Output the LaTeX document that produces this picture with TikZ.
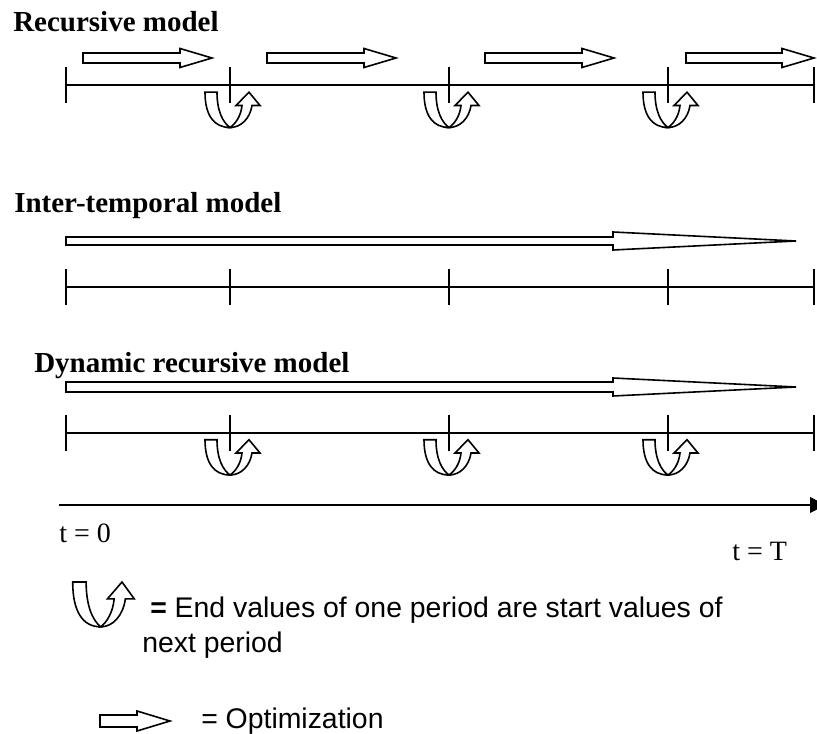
\documentclass[tikz,border=0pt]{standalone}
\usepackage{fontspec}
\setmainfont{Liberation Serif}
\newfontfamily\arialf{Liberation Sans}
\usetikzlibrary{arrows.meta}
\newcommand\blockarr[7]{% tail x, tip x, y, shaft half, head half, head length, name
  \draw[outl] (#1,#3-#4) -- (#2-#6,#3-#4) -- (#2-#6,#3-#5) -- (#2,#3) coordinate (#7)
    -- (#2-#6,#3+#5) -- (#2-#6,#3+#4) -- (#1,#3+#4) -- cycle;}
\begin{document}
\begin{tikzpicture}[x=0.75pt,y=-0.75pt,
  outl/.style={draw=black,fill=white,line width=1.2pt,line join=miter},
  tline/.style={draw=black,line width=1.5pt},
  titletxt/.style={anchor=base west,inner sep=0pt,font=\fontsize{21.75}{26}\selectfont\bfseries},
  serif/.style={anchor=base west,inner sep=0pt,font=\fontsize{21}{26}\selectfont},
  sans/.style={anchor=base west,inner sep=0pt,font=\arialf\fontsize{21.3}{26}\selectfont},
  curl/.pic={
    \draw[outl] (-25,6.7) -- (-13,6.7) .. controls (-13,26) and (-7,37) .. (0,42)
      .. controls (-16,42) and (-25,30) .. (-25,6.7) -- cycle;
    \draw[outl] (0,42) .. controls (11,42) and (20,33) .. (22,20) -- (30,20) -- (19,6.7)
      -- (6,20) -- (12,20) .. controls (11,30) and (6,38) .. (0,42) -- cycle;
  }]
\useasboundingbox (0,0) rectangle (817,734);

% ---------- Recursive model ----------
\node[titletxt] (t1) at (13,32) {Recursive model};
\blockarr{83}{212}{58}{5}{9.5}{32}{r1}
\blockarr{267}{396}{58}{5}{9.5}{32}{r2}
\blockarr{485}{614}{58}{5}{9.5}{32}{r3}
\blockarr{686}{814}{58}{5}{9.5}{32}{r4}
\coordinate (a0) at (66,85.5);
\coordinate (a1) at (230,85.5);
\coordinate (a2) at (449,85.5);
\coordinate (a3) at (668,85.5);
\coordinate (a4) at (814,85.5);
\draw[tline] (a0) -- (a4);
\foreach \c in {a0,a1,a2,a3,a4}{\draw[tline] ([yshift=18*0.75pt]\c) -- ([yshift=-18*0.75pt]\c);}
\foreach \c in {a1,a2,a3}{\pic at (\c) {curl};}

% ---------- Inter-temporal model ----------
\node[titletxt] (t2) at (14,213) {Inter-temporal model};
\blockarr{66}{796}{241}{4}{9}{183}{it}
\coordinate (b0) at (66,287);
\coordinate (b1) at (230,287);
\coordinate (b2) at (449,287);
\coordinate (b3) at (668,287);
\coordinate (b4) at (814,287);
\draw[tline] (b0) -- (b4);
\foreach \c in {b0,b1,b2,b3,b4}{\draw[tline] ([yshift=18*0.75pt]\c) -- ([yshift=-18*0.75pt]\c);}

% ---------- Dynamic recursive model ----------
\node[titletxt] (t3) at (34,372) {Dynamic recursive model};
\blockarr{66}{796}{387}{5}{9}{183}{dr}
\coordinate (c0) at (66,433);
\coordinate (c1) at (230,433);
\coordinate (c2) at (449,433);
\coordinate (c3) at (668,433);
\coordinate (c4) at (814,433);
\draw[tline] (c0) -- (c4);
\foreach \c in {c0,c1,c2,c3,c4}{\draw[tline] ([yshift=18*0.75pt]\c) -- ([yshift=-18*0.75pt]\c);}
\foreach \c in {c1,c2,c3}{\pic at (\c) {curl};}

% ---------- time axis ----------
\coordinate (ax0) at (59,505);
\coordinate (ax1) at (826,505);
\draw[line width=1.9pt,-{Triangle[length=12pt,width=11.5pt]}] (ax0) -- (ax1);
\node[serif] (tz) at (59,542) {t = 0};
\node[serif] (tT) at (732,560) {t = T};

% ---------- legend ----------
\pic[xscale=1.12,yscale=1.27] at (100.7,573.5) {curl};
\node[sans] (l1) at (150,617) {\textbf{=} End values of one period are start values of};
\node[sans] (l2) at (142,652) {next period};
\blockarr{100}{170}{721}{6}{10}{33}{lg}
\node[sans] (l3) at (201,728) {= Optimization};
\end{tikzpicture}
\end{document}
